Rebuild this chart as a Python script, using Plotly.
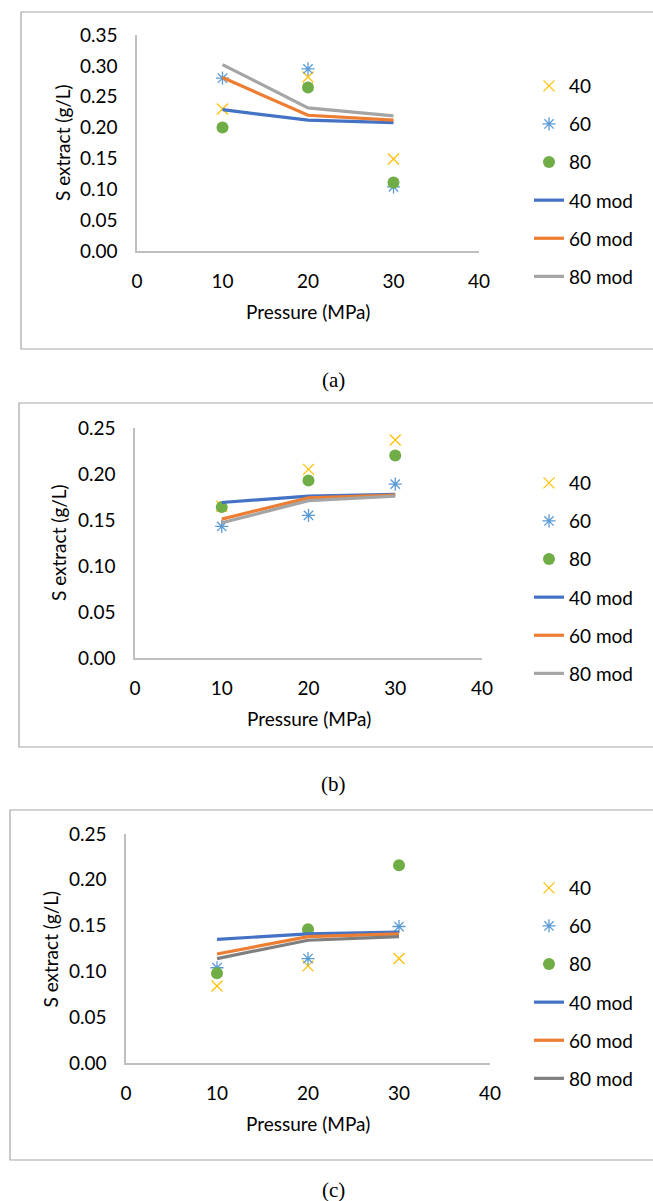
import plotly.graph_objects as go

W, H = 653, 1201

pressure = [10, 20, 30]

# Panel (a)
a_40 = [0.23, 0.282, 0.149]
a_60 = [0.28, 0.295, 0.104]
a_80 = [0.20, 0.265, 0.111]
a_40_mod = [0.229, 0.212, 0.208]
a_60_mod = [0.281, 0.220, 0.212]
a_80_mod = [0.302, 0.232, 0.219]

# Panel (b)
b_40 = [0.165, 0.205, 0.237]
b_60 = [0.143, 0.155, 0.189]
b_80 = [0.164, 0.193, 0.220]
b_40_mod = [0.169, 0.176, 0.178]
b_60_mod = [0.151, 0.174, 0.177]
b_80_mod = [0.147, 0.171, 0.176]

# Panel (c)
c_40 = [0.084, 0.106, 0.114]
c_60 = [0.104, 0.114, 0.149]
c_80 = [0.098, 0.146, 0.216]
c_40_mod = [0.135, 0.141, 0.143]
c_60_mod = [0.119, 0.138, 0.141]
c_80_mod = [0.114, 0.134, 0.138]

series_names = ["40", "60", "80", "40 mod", "60 mod", "80 mod"]
y_ticks_a = [0.00, 0.05, 0.10, 0.15, 0.20, 0.25, 0.30, 0.35]
y_ticks_bc = [0.00, 0.05, 0.10, 0.15, 0.20, 0.25]
x_ticks = [0, 10, 20, 30, 40]

FONT = "Lato"
FS = 19
AXIS_GREY = "#BFBFBF"

GOLD = "#FFC000"
LBLUE = "#5B9BD5"
GREEN = "#70AD47"
BLUE = "#4472C4"
ORANGE = "#ED7D31"
GREY = "#A5A5A5"
DGREY = "#7F7F7F"


def px_x(p):
    return p / W


def px_y(p):
    return 1 - p / H


fig = go.Figure()

panels = [
    dict(data=[a_40, a_60, a_80, a_40_mod, a_60_mod, a_80_mod], grey=GREY,
         ax=(137, 479), ay=(251, 35), ymax=0.35, yticks=y_ticks_a,
         legend_top=67, ytitle_x=62, box=(21, 12, 349), caption_y=380, cap="(a)"),
    dict(data=[b_40, b_60, b_80, b_40_mod, b_60_mod, b_80_mod], grey=GREY,
         ax=(135, 482), ay=(658, 428), ymax=0.25, yticks=y_ticks_bc,
         legend_top=464, ytitle_x=58, box=(19, 403, 747), caption_y=784, cap="(b)"),
    dict(data=[c_40, c_60, c_80, c_40_mod, c_60_mod, c_80_mod], grey=DGREY,
         ax=(126, 490), ay=(1063, 834), ymax=0.25, yticks=y_ticks_bc,
         legend_top=869, ytitle_x=50, box=(10, 810, 1160), caption_y=1190, cap="(c)"),
]

shapes = []
annotations = []

for i, p in enumerate(panels):
    n = "" if i == 0 else str(i + 1)
    xa, ya = "x" + n, "y" + n
    leg = "legend" + n
    vals = p["data"]
    marker_styles = [
        dict(symbol="x-thin-open", size=11, color=GOLD, line=dict(color=GOLD, width=1.3)),
        dict(symbol="asterisk-open", size=11, color=LBLUE, line=dict(color=LBLUE, width=1.3)),
        dict(symbol="circle", size=12, color=GREEN, line=dict(width=0)),
    ]
    for k in range(3):
        fig.add_trace(go.Scatter(
            x=pressure, y=vals[k], mode="markers", name=series_names[k],
            marker=marker_styles[k], xaxis=xa, yaxis=ya, legend=leg,
            legendgroup=f"{i}-{k}"))
    line_colors = [BLUE, ORANGE, p["grey"]]
    for k in range(3):
        fig.add_trace(go.Scatter(
            x=pressure, y=vals[3 + k], mode="lines", name=series_names[3 + k],
            line=dict(color=line_colors[k], width=3.2), xaxis=xa, yaxis=ya,
            legend=leg, legendgroup=f"{i}-{3 + k}"))

    x0, x1 = p["ax"]
    yb, yt = p["ay"]
    xkey = "xaxis" + n
    ykey = "yaxis" + n
    fig.layout[xkey] = dict(
        domain=[px_x(x0), px_x(x1)], range=[0, 40], tickvals=x_ticks,
        showgrid=False, zeroline=False, showline=True, linecolor=AXIS_GREY,
        linewidth=1.5, ticks="", ticklabelstandoff=12, anchor=ya,
        automargin=False,
        tickfont=dict(family=FONT, size=FS, color="#000000"), fixedrange=True)
    fig.layout[ykey] = dict(
        domain=[px_y(yb), px_y(yt)], range=[0, p["ymax"]], tickvals=p["yticks"],
        tickformat=".2f", showgrid=False, zeroline=False, showline=True,
        linecolor=AXIS_GREY, linewidth=1.5, ticks="", ticklabelstandoff=14,
        anchor=xa, automargin=False,
        tickfont=dict(family=FONT, size=FS, color="#000000"),
        fixedrange=True)

    fig.layout[leg] = dict(
        x=px_x(529), y=px_y(p["legend_top"]), xanchor="left", yanchor="top",
        xref="paper", yref="paper", bgcolor="rgba(0,0,0,0)",
        font=dict(family=FONT, size=FS, color="#000000"),
        traceorder="grouped", tracegroupgap=10.4)

    # axis titles
    annotations.append(dict(
        text="Pressure (MPa)", x=px_x((x0 + x1) / 2), y=px_y(yb + 60),
        xref="paper", yref="paper", showarrow=False, xanchor="center",
        yanchor="middle", font=dict(family=FONT, size=FS, color="#000000")))
    annotations.append(dict(
        text="S extract (g/L)", x=px_x(p["ytitle_x"]), y=px_y((yb + yt) / 2),
        xref="paper", yref="paper", showarrow=False, textangle=-90,
        xanchor="center", yanchor="middle",
        font=dict(family=FONT, size=FS, color="#000000")))
    # panel caption
    annotations.append(dict(
        text=p["cap"], x=px_x(333), y=px_y(p["caption_y"]), xref="paper",
        yref="paper", showarrow=False, xanchor="center", yanchor="middle",
        font=dict(family="Liberation Serif", size=21, color="#000000")))

    bx, by0, by1 = p["box"]
    shapes.append(dict(
        type="rect", xref="paper", yref="paper", x0=px_x(bx), x1=1.05,
        y0=px_y(by1), y1=px_y(by0), line=dict(color="#A6A6A6", width=1.2),
        fillcolor="rgba(0,0,0,0)", layer="below"))

fig.update_layout(
    width=W, height=H,
    margin=dict(l=0, r=0, t=0, b=0, pad=0, autoexpand=False),
    paper_bgcolor="#FFFFFF", plot_bgcolor="#FFFFFF",
    shapes=shapes, annotations=annotations, showlegend=True,
)

fig.write_html(
    "out.html",
    config={"displayModeBar": False},
    post_script="document.body.style.margin='0';document.body.style.overflow='hidden';",
)
